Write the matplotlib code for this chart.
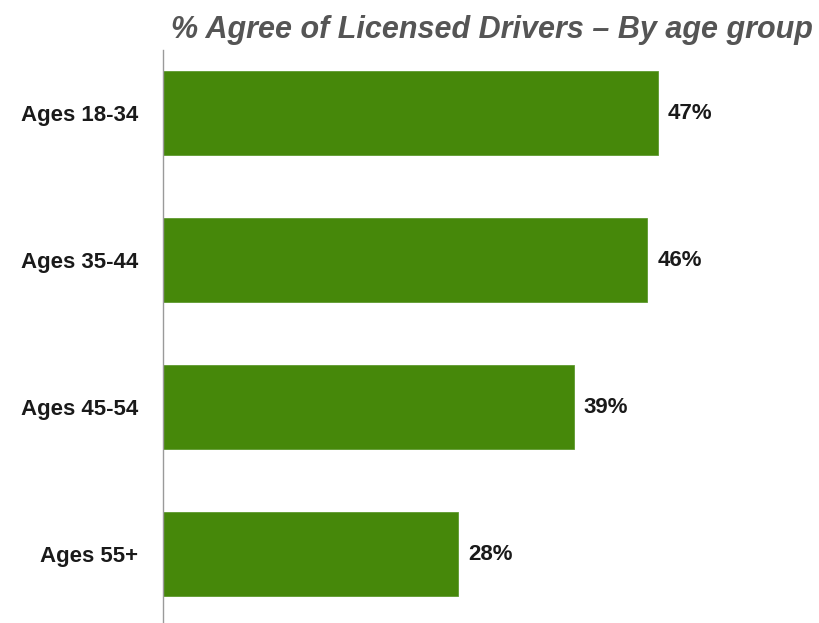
import numpy as np
import matplotlib
matplotlib.use("Agg")
import matplotlib.pyplot as plt

# survey results, % agree by age group
groups = ["Ages 18-34", "Ages 35-44", "Ages 45-54", "Ages 55+"]
agree_pct = [47, 46, 39, 28]

title = "% Agree of Licensed Drivers \u2013 By age group"
bar_color = "#46880a"

plt.rcParams["font.family"] = ["Liberation Sans", "DejaVu Sans"]

fig = plt.figure(figsize=(8.2, 6.23), dpi=100)
ax = fig.add_axes([163 / 820, 0.0, 1 - 163 / 820, 1 - 50 / 623])

y = np.arange(len(groups))
ax.barh(y, agree_pct, height=0.57, color=bar_color, edgecolor="#5f9a30", linewidth=0.6)

ax.set_xlim(0, 62.4)
ax.set_ylim(3.469, -0.429)

for yi, v in zip(y, agree_pct):
    ax.text(v + 0.95, yi, f"{v}%", va="center", ha="left",
            fontsize=16, fontweight="bold", color="#1a1a1a")

ax.set_yticks(y)
ax.set_yticklabels(groups, fontsize=16, fontweight="bold", color="#1a1a1a")
ax.tick_params(axis="y", length=0, pad=18)
ax.set_xticks([])

for side in ["top", "right", "bottom"]:
    ax.spines[side].set_visible(False)
ax.spines["left"].set_color("#9a9a9a")
ax.spines["left"].set_linewidth(1.0)

fig.text(0.600, 0.952, title, ha="center", va="center", fontsize=22,
         fontweight="bold", style="italic", color="#555555")

fig.savefig("out.png", dpi=100)
